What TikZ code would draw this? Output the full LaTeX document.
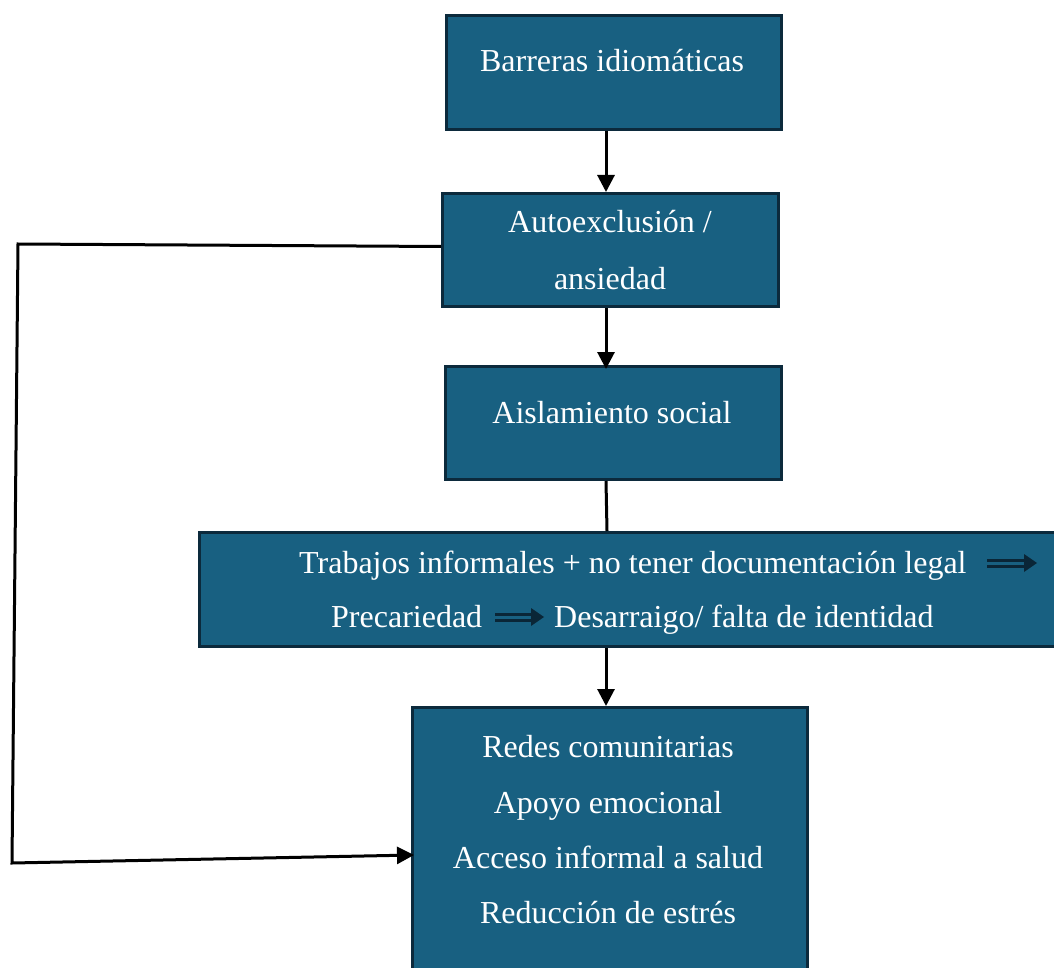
\documentclass[tikz,border=0pt]{standalone}
\usepackage{fontspec}
\setmainfont{Liberation Serif}
\usetikzlibrary{arrows.meta}
\definecolor{boxfill}{RGB}{24,96,129}
\definecolor{boxline}{RGB}{12,42,60}
\definecolor{darrowc}{RGB}{10,38,55}
\tikzset{
  flowbox/.style={draw=boxline, line width=3pt, fill=boxfill, inner sep=0pt, anchor=north west},
  boxtext/.style={text=white, font=\fontsize{32}{38}\selectfont, inner sep=0pt},
  conn/.style={draw=black, line width=3pt, -{Triangle[length=17pt,width=17pt]}},
  plainconn/.style={draw=black, line width=3pt},
  dblshaft/.style={draw=darrowc, line width=3pt, double=boxfill, double distance=3pt},
  dblhead/.style={fill=darrowc}
}
\begin{document}
\begin{tikzpicture}[x=1pt,y=-1pt]
\useasboundingbox (0,0) rectangle (1054,968);
\fill[white] (0,0) rectangle (1054,968);
\clip (0,0) rectangle (1054,968);

% boxes
\node[flowbox, minimum width=335pt, minimum height=114pt] (b1) at (445,14) {};
\node[flowbox, minimum width=336pt, minimum height=113pt] (b2) at (441,192) {};
\node[flowbox, minimum width=336pt, minimum height=113pt] (b3) at (444,365) {};
\node[flowbox, minimum width=880pt, minimum height=114pt] (b4) at (198,531) {};
\node[flowbox, minimum width=395pt, minimum height=280pt] (b5) at (411,706) {};

% texts
\node[boxtext, anchor=base] (t1) at (612,72) {Barreras idiomáticas};
\node[boxtext, anchor=base] (t2a) at (610,233) {Autoexclusión /};
\node[boxtext, anchor=base] (t2b) at (610,289) {ansiedad};
\node[boxtext, anchor=base] (t3) at (612,423) {Aislamiento social};
\node[boxtext, anchor=base west] (t4a) at (299,573) {Trabajos informales + no tener documentación legal};
\node[boxtext, anchor=base west] (t4b) at (331,627) {Precariedad};
\node[boxtext, anchor=base west] (t4c) at (554,627) {Desarraigo/ falta de identidad};
\node[boxtext, anchor=base] (t5a) at (608,757) {Redes comunitarias};
\node[boxtext, anchor=base] (t5b) at (608,813) {Apoyo emocional};
\node[boxtext, anchor=base] (t5c) at (608,868) {Acceso informal a salud};
\node[boxtext, anchor=base] (t5d) at (608,923) {Reducción de estrés};

% double arrows inside the wide box
\coordinate (d1s) at (987,563);
\coordinate (d1e) at (1037,563);
\coordinate (d2s) at (495,617);
\coordinate (d2e) at (544,617);
\draw[dblshaft] (d1s) -- ([xshift=-10pt]d1e);
\fill[dblhead] (d1e) -- ++(-13,-9) -- ++(0,18) -- cycle;
\draw[dblshaft] (d2s) -- ([xshift=-10pt]d2e);
\fill[dblhead] (d2e) -- ++(-13,-9) -- ++(0,18) -- cycle;

% connectors
\coordinate (cx) at (606,0);
\draw[conn] (b1.south -| cx) -- (b2.north -| cx);
\draw[conn] (b2.south -| cx) -- ([yshift=-4pt]b3.north -| cx);
\draw[plainconn] (b3.south -| cx) -- ([xshift=1pt]b4.north -| cx);
\draw[conn] (b4.south -| cx) -- (b5.north -| cx);

\coordinate (fb1) at (18,244);
\coordinate (fb2) at (12,863);
\coordinate (fb3) at (0,855);
\draw[conn] ([yshift=3.5pt]b2.west) -- (fb1) -- (fb2) -- ([xshift=3pt]b5.west |- fb3);
\end{tikzpicture}
\end{document}
